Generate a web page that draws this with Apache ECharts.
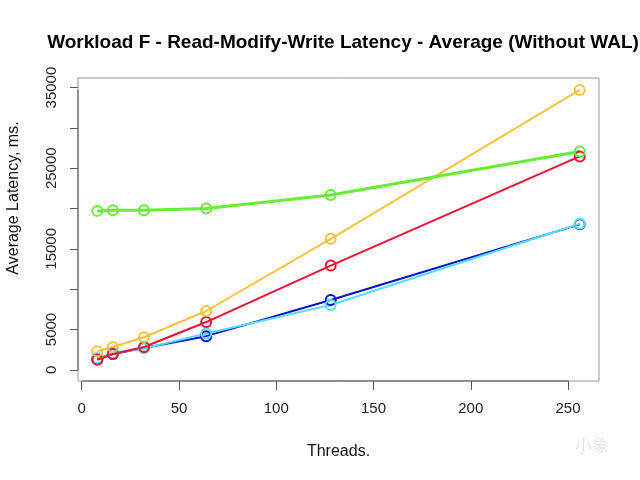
<!DOCTYPE html>
<html><head><meta charset="utf-8">
<script src="https://cdn.jsdelivr.net/npm/echarts@6/dist/echarts.min.js"></script>
<style>html,body{margin:0;padding:0;background:#fff}#c{width:640px;height:480px}</style>
</head><body><div id="c"></div>
<script>
const threads = [8, 16, 32, 64, 128, 256];
const blueVals   = [1300, 1960, 2700, 4170, 8650, 18040];
const cyanVals   = [1450, 2080, 2630, 4500, 8040, 18120];
const redVals    = [1250, 1960, 2830, 5920, 12920, 26460];
const orangeVals = [2290, 2830, 4040, 7290, 16250, 34710];
const greenVals  = [19710, 19790, 19790, 20000, 21670, 27080];
const xTicks = [0, 50, 100, 150, 200, 250];
const yTicks = [0, 5000, 10000, 15000, 20000, 25000, 30000, 35000];
const yLabels = [0, 5000, 15000, 25000, 35000];

const seriesDefs = [
  ['blue', blueVals, '#0011cc'],
  ['cyan', cyanVals, '#55ddff'],
  ['red', redVals, '#ee1133'],
  ['orange', orangeVals, '#f8c23c'],
  ['green', greenVals, '#66ee33']
];
const font = 'Liberation Sans, Arial, sans-serif';
const chart = echarts.init(document.getElementById('c'), null, {renderer: 'canvas'});
chart.setOption({
  backgroundColor: '#fff',
  animation: false,
  title: {
    text: 'Workload F - Read-Modify-Write Latency - Average (Without WAL)',
    left: 338, top: 28, textAlign: 'center',
    textStyle: {fontFamily: font, fontSize: 19, fontWeight: 'bold', color: '#000'}
  },
  grid: {left: 78, right: 41, top: 78, bottom: 99, show: true, borderColor: '#999', borderWidth: 1,
    backgroundColor: '#fff', containLabel: false, outerBoundsMode: 'none'},
  xAxis: {
    type: 'value', min: -1.92, max: 265.92, position: 'bottom',
    name: 'Threads.', nameLocation: 'middle', nameGap: 63,
    nameTextStyle: {fontFamily: font, fontSize: 16, color: '#111'},
    axisLine: {show: false, onZero: false},
    axisTick: {show: true, inside: false, length: 9, customValues: xTicks, lineStyle: {color: '#555'}},
    axisLabel: {customValues: xTicks, inside: false, fontFamily: font, fontSize: 15, color: '#222', margin: 20,
      formatter: v => String(v)},
    splitLine: {show: false}
  },
  yAxis: {
    type: 'value', min: -1392, max: 36192, position: 'left',
    axisLine: {show: false, onZero: false},
    axisTick: {show: true, inside: false, length: 8, customValues: yTicks, lineStyle: {color: '#555'}},
    axisLabel: {customValues: yLabels, inside: false, rotate: 90, fontFamily: font, fontSize: 15, color: '#222', margin: 19,
      formatter: v => String(v)},
    splitLine: {show: false}
  },
  graphic: [
    {type: 'line', shape: {x1: 78, y1: 90, x2: 78, y2: 370}, style: {stroke: '#555', lineWidth: 1}},
    {type: 'line', shape: {x1: 82.5, y1: 381, x2: 568, y2: 381}, style: {stroke: '#555', lineWidth: 1}},
    {type: 'text', x: 14, y: 198, rotation: Math.PI / 2,
      style: {text: 'Average Latency, ms.', fontSize: 16, fontFamily: font, fill: '#111', align: 'center', verticalAlign: 'middle'}},
    {type: 'text', left: 575, top: 437, style: {text: '小象', fontSize: 17, fill: '#e6e6e6', fontFamily: 'Noto Sans CJK SC'}}
  ],
  series: seriesDefs.map(([n, vals, col]) => ({
    name: n, type: 'line',
    data: threads.map((t, i) => [t, vals[i]]),
    symbol: 'circle', symbolSize: 10,
    itemStyle: {color: 'rgba(255,255,255,0)', borderColor: col, borderWidth: 2},
    lineStyle: {color: col, width: n === 'green' ? 3 : 2},
    z: 2
  }))
});
</script></body></html>
